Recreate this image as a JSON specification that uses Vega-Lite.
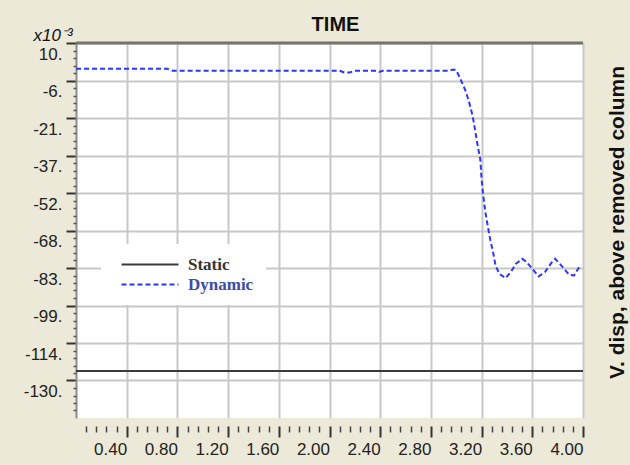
{
  "$schema": "https://vega.github.io/schema/vega-lite/v6.json",
  "autosize": {"type": "none"},
  "width": 507,
  "height": 375,
  "padding": {"left": 76, "top": 43, "right": 47, "bottom": 47},
  "background": "#ECE9D8",
  "config": {
    "view": {"fill": "white", "stroke": null},
    "axis": {"labelFont": "Liberation Sans", "titleFont": "Liberation Sans", "labelColor": "#222222", "titleColor": "#111111"},
    "legend": {
      "orient": "none",
      "legendX": 25,
      "legendY": 201,
      "fillColor": "white",
      "padding": 12,
      "symbolType": "M0,0H8",
      "symbolSize": 203,
      "symbolStrokeWidth": 2,
      "labelFont": "Liberation Serif",
      "labelFontSize": 17,
      "labelFontWeight": "bold",
      "labelOffset": 58
    }
  },
  "datasets": {
    "curves": [
      {"t": 0, "v": -126, "series": "Static"},
      {"t": 4, "v": -126, "series": "Static"},
      {"t": 0, "v": -0.7, "series": "Dynamic"},
      {"t": 0.72, "v": -0.7, "series": "Dynamic"},
      {"t": 0.76, "v": -1.5, "series": "Dynamic"},
      {"t": 2.08, "v": -1.5, "series": "Dynamic"},
      {"t": 2.12, "v": -2.3, "series": "Dynamic"},
      {"t": 2.16, "v": -2.2, "series": "Dynamic"},
      {"t": 2.2, "v": -1.5, "series": "Dynamic"},
      {"t": 2.36, "v": -1.5, "series": "Dynamic"},
      {"t": 2.39, "v": -2.0, "series": "Dynamic"},
      {"t": 2.42, "v": -1.5, "series": "Dynamic"},
      {"t": 2.94, "v": -1.5, "series": "Dynamic"},
      {"t": 2.98, "v": -1.0, "series": "Dynamic"},
      {"t": 3.0, "v": -1.3, "series": "Dynamic"},
      {"t": 3.03, "v": -4.6, "series": "Dynamic"},
      {"t": 3.07, "v": -9.4, "series": "Dynamic"},
      {"t": 3.1, "v": -14.2, "series": "Dynamic"},
      {"t": 3.13, "v": -20.4, "series": "Dynamic"},
      {"t": 3.15, "v": -26.6, "series": "Dynamic"},
      {"t": 3.17, "v": -32.8, "series": "Dynamic"},
      {"t": 3.19, "v": -38.3, "series": "Dynamic"},
      {"t": 3.2, "v": -46.5, "series": "Dynamic"},
      {"t": 3.21, "v": -51.9, "series": "Dynamic"},
      {"t": 3.23, "v": -60.2, "series": "Dynamic"},
      {"t": 3.25, "v": -66.3, "series": "Dynamic"},
      {"t": 3.27, "v": -72.0, "series": "Dynamic"},
      {"t": 3.29, "v": -76.6, "series": "Dynamic"},
      {"t": 3.31, "v": -82.3, "series": "Dynamic"},
      {"t": 3.34, "v": -85.7, "series": "Dynamic"},
      {"t": 3.39, "v": -87.5, "series": "Dynamic"},
      {"t": 3.43, "v": -85.0, "series": "Dynamic"},
      {"t": 3.47, "v": -81.6, "series": "Dynamic"},
      {"t": 3.52, "v": -79.5, "series": "Dynamic"},
      {"t": 3.55, "v": -80.6, "series": "Dynamic"},
      {"t": 3.6, "v": -83.6, "series": "Dynamic"},
      {"t": 3.65, "v": -86.8, "series": "Dynamic"},
      {"t": 3.7, "v": -85.0, "series": "Dynamic"},
      {"t": 3.75, "v": -81.2, "series": "Dynamic"},
      {"t": 3.78, "v": -79.5, "series": "Dynamic"},
      {"t": 3.84, "v": -82.9, "series": "Dynamic"},
      {"t": 3.89, "v": -86.1, "series": "Dynamic"},
      {"t": 3.93, "v": -86.4, "series": "Dynamic"},
      {"t": 3.97, "v": -82.9, "series": "Dynamic"}
    ]
  },
  "resolve": {"axis": {"x": "independent", "y": "independent"}},
  "layer": [
    {
      "data": {"name": "curves"},
      "mark": {"type": "line", "strokeWidth": 2, "interpolate": "linear"},
      "encoding": {
        "x": {
          "field": "t", "type": "quantitative",
          "scale": {"domain": [0, 4], "nice": false, "zero": false},
          "axis": {
            "orient": "bottom",
            "values": [0.4, 0.8, 1.2, 1.6, 2.0, 2.4, 2.8, 3.2, 3.6, 4.0],
            "format": ".2f",
            "offset": 8,
            "domain": false,
            "grid": true, "gridColor": "#c8c8c8", "gridWidth": 2,
            "ticks": true, "tickSize": 11, "tickWidth": 2, "tickColor": "#333333",
            "labelAlign": "right", "labelBaseline": "top", "labelPadding": 4, "labelFontSize": 17,
            "title": "TIME", "titleFontSize": 20, "titleFontWeight": "bold",
            "titleX": 259, "titleY": -396, "titleAlign": "center", "titleBaseline": "alphabetic"
          }
        },
        "y": {
          "field": "v", "type": "quantitative",
          "scale": {"domain": [-145.5, 10], "nice": false, "zero": false},
          "axis": {
            "orient": "left",
            "values": [10, -5.55, -21.1, -36.65, -52.2, -67.75, -83.3, -98.85, -114.4, -129.95],
            "labelExpr": "round(datum.value) + '.'",
            "domain": true, "domainColor": "#8c8c8c", "domainWidth": 2,
            "grid": true, "gridColor": "#c8c8c8", "gridWidth": 2,
            "ticks": true, "tickSize": 10, "tickWidth": 2, "tickColor": "#333333",
            "labelBaseline": "top", "labelOffset": 3, "labelPadding": 4, "labelFontSize": 17,
            "title": "x10⁻³", "titleAngle": 0, "titleFontSize": 17, "titleFontStyle": "italic", "titleFontWeight": "normal",
            "titleX": -43, "titleY": -3, "titleAlign": "left", "titleBaseline": "alphabetic"
          }
        },
        "color": {
          "field": "series", "type": "nominal",
          "scale": {"domain": ["Static", "Dynamic"], "range": ["#3a3a3a", "#2a35ff"]},
          "legend": {"title": null, "encode": {"labels": {"update": {"fill": {"signal": "datum.value === 'Dynamic' ? '#3b4ca8' : '#333333'"}}}}}
        },
        "strokeDash": {
          "field": "series", "type": "nominal",
          "scale": {"domain": ["Static", "Dynamic"], "range": [[1, 0], [5, 3]]},
          "legend": {"title": null, "encode": {"labels": {"update": {"fill": {"signal": "datum.value === 'Dynamic' ? '#3b4ca8' : '#333333'"}}}}}
        }
      }
    },
    {
      "data": {"values": [{}]},
      "mark": {"type": "rule", "color": "#74746a", "strokeWidth": 3},
      "encoding": {
        "y": {
          "datum": 10, "type": "quantitative",
          "scale": {"domain": [-145.5, 10], "nice": false, "zero": false},
          "axis": {
            "orient": "left",
            "values": [6.89, 3.78, 0.67, -2.44, -8.66, -11.77, -14.88, -17.99, -24.21, -27.32, -30.43, -33.54, -39.76, -42.87, -45.98, -49.09, -55.31, -58.42, -61.53, -64.64, -70.86, -73.97, -77.08, -80.19, -86.41, -89.52, -92.63, -95.74, -101.96, -105.07, -108.18, -111.29, -117.51, -120.62, -123.73, -126.84, -133.06, -136.17, -139.28, -142.39],
            "labels": false, "domain": false, "grid": false,
            "ticks": true, "tickSize": 3, "tickWidth": 1.5, "tickColor": "#555555",
            "title": null
          }
        }
      }
    },
    {
      "data": {"values": [{}]},
      "mark": {"type": "rule", "color": "#8c8c8c", "strokeWidth": 2, "opacity": 0},
      "encoding": {
        "x": {
          "datum": 0, "type": "quantitative",
          "scale": {"domain": [0, 4], "nice": false, "zero": false},
          "axis": {
            "orient": "bottom",
            "values": [0.08, 0.16, 0.24, 0.32, 0.48, 0.56, 0.64, 0.72, 0.88, 0.96, 1.04, 1.12, 1.28, 1.36, 1.44, 1.52, 1.68, 1.76, 1.84, 1.92, 2.08, 2.16, 2.24, 2.32, 2.48, 2.56, 2.64, 2.72, 2.88, 2.96, 3.04, 3.12, 3.28, 3.36, 3.44, 3.52, 3.68, 3.76, 3.84, 3.92],
            "offset": 8, "labels": false, "domain": false, "grid": false,
            "ticks": true, "tickSize": 6, "tickWidth": 1.5, "tickColor": "#444444",
            "title": null
          }
        },
        "y": {
          "datum": 10, "type": "quantitative",
          "scale": {"domain": [-145.5, 10], "nice": false, "zero": false},
          "axis": {
            "orient": "right",
            "labels": false, "domain": false, "grid": false, "ticks": false,
            "title": "V. disp, above removed column",
            "titleAngle": 270, "titleFontSize": 21, "titleFontWeight": "bold",
            "titleX": 34, "titleY": 179, "titleAlign": "center", "titleBaseline": "middle"
          }
        },
        "y2": {"datum": -145.5}
      }
    }
  ]
}
